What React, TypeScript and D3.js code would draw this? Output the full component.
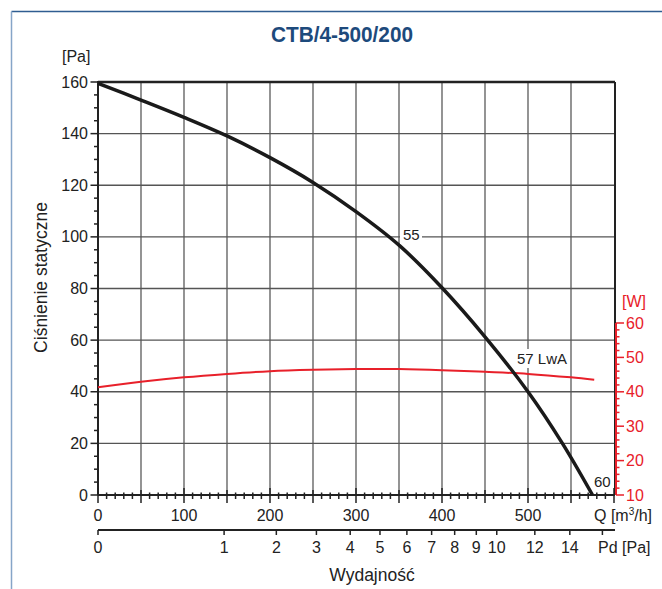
import React from "react";
import * as d3 from "d3";

const title = "CTB/4-500/200";
const flowQ = [0, 50, 100, 150, 200, 250, 300, 350, 400, 450, 500, 540, 575];
const pressurePa = [159.5, 153, 146.3, 139.1, 130.7, 121.1, 109.8, 96.8, 80.3, 61.3, 40, 20, 0];
const powerQ = [0, 50, 100, 150, 200, 250, 300, 350, 400, 450, 500, 550, 577];
const powerW = [41.3, 42.9, 44.2, 45.2, 46.0, 46.4, 46.6, 46.6, 46.3, 45.8, 45.2, 44.2, 43.5];
const qTicks = [0, 100, 200, 300, 400, 500];
const paTicks = [0, 20, 40, 60, 80, 100, 120, 140, 160];
const wTicks = [10, 20, 30, 40, 50, 60];
const pdTicks = [0, 1, 2, 3, 4, 5, 6, 7, 8, 9, 10, 12, 14, 16];
const pdLabelled = [0, 1, 2, 3, 4, 5, 6, 7, 8, 9, 10, 12, 14];
const pdFactor = 21500; // Q^2 per 1 Pa of dynamic pressure
const noiseLabels = ["55", "57 LwA", "60"];

const W = 662;
const H = 589;
const FONT = "Liberation Sans, Arial, Helvetica, sans-serif";
const RED = "#e8202a";

export default function App() {
  const x = d3.scaleLinear().domain([0, 600]).range([98, 614]);
  const y = d3.scaleLinear().domain([0, 160]).range([495, 82]);
  const yw = d3.scaleLinear().domain([10, 60]).range([495, 323]);
  const xPd = (pd: number) => x(Math.sqrt(pd * pdFactor));

  const pLine = d3
    .line<number>()
    .x((_, i) => x(flowQ[i]))
    .y((d) => y(d))
    .curve(d3.curveCatmullRom.alpha(0.5));
  const wLine = d3
    .line<number>()
    .x((_, i) => x(powerQ[i]))
    .y((d) => yw(d))
    .curve(d3.curveCatmullRom.alpha(0.5));

  const vGrid = d3.range(50, 600, 50);
  const hGrid = d3.range(20, 160, 20);
  const qMinor = d3.range(0, 601, 10);
  const paMinor = d3.range(0, 161, 5);
  const wMinor = d3.range(10, 61, 2);

  const labelPos = [
    { x: 403, y: 235, bg: 22 },
    { x: 517, y: 359, bg: 56 },
    { x: 594, y: 481.5, bg: 0 },
  ];

  return (
    <svg
      width={W}
      height={H}
      style={{ position: "absolute", left: 0, top: 0, background: "#fff" }}
      fontFamily={FONT}
    >
      <rect x={0} y={0} width={W} height={H} fill="#fff" />
      {/* frame */}
      <line x1={11.5} y1={11.5} x2={W} y2={11.5} stroke="#2f5d91" strokeWidth={1.5} />
      <line x1={11.5} y1={11.5} x2={11.5} y2={H} stroke="#86a5c8" strokeWidth={1.5} />

      {/* title */}
      <text
        x={342}
        y={41.5}
        textAnchor="middle"
        fontFamily="Liberation Sans Narrow, Arial Narrow, sans-serif"
        fontWeight="bold"
        fontSize={22}
        fill="#1d4a7c"
        textLength={142}
        lengthAdjust="spacingAndGlyphs"
      >
        {title}
      </text>

      {/* grid */}
      {vGrid.map((q) => (
        <line key={"v" + q} x1={x(q)} x2={x(q)} y1={y(160)} y2={y(0)} stroke="#666" strokeWidth={1.4} />
      ))}
      {hGrid.map((p) => (
        <line key={"h" + p} x1={x(0)} x2={x(600)} y1={y(p)} y2={y(p)} stroke="#555" strokeWidth={1.3} />
      ))}

      {/* frame lines of plot */}
      <line x1={x(0)} x2={x(600) + 1} y1={y(160)} y2={y(160)} stroke="#222" strokeWidth={2.5} />
      <line x1={x(600) + 1} x2={x(600) + 1} y1={y(160)} y2={y(0)} stroke="#222" strokeWidth={2} />
      <line x1={x(0)} x2={x(0)} y1={y(160) - 1} y2={y(0)} stroke="#222" strokeWidth={2} />
      <line x1={x(0)} x2={x(600) + 1} y1={y(0)} y2={y(0)} stroke="#222" strokeWidth={2} />

      {/* left axis ticks */}
      {paMinor.map((p) => (
        <line
          key={"pt" + p}
          x1={p % 20 === 0 ? x(0) - 7.5 : x(0) - 4}
          x2={x(0)}
          y1={y(p)}
          y2={y(p)}
          stroke="#222"
          strokeWidth={1.5}
        />
      ))}
      {paTicks.map((p) => (
        <text key={"pl" + p} x={88} y={y(p)} dy="0.35em" textAnchor="end" fontSize={16} fill="#222">
          {p}
        </text>
      ))}
      <text x={62} y={62} fontSize={16} fill="#222">[Pa]</text>
      <text
        transform={`translate(47,${277.5}) rotate(-90)`}
        textAnchor="middle"
        fontSize={17.5}
        fill="#222"
      >
        Ciśnienie statyczne
      </text>

      {/* bottom Q axis ticks */}
      {qMinor.map((q) => {
        const major = q % 100 === 0;
        const mid = q % 50 === 0;
        return (
          <line
            key={"qt" + q}
            x1={x(q)}
            x2={x(q)}
            y1={y(0) - (major ? 7 : mid ? 5 : 2.5)}
            y2={y(0) + (major ? 8 : mid ? 8 : 4)}
            stroke="#222"
            strokeWidth={1.5}
          />
        );
      })}
      {qTicks.map((q) => (
        <text key={"ql" + q} x={x(q)} y={521} textAnchor="middle" fontSize={16} fill="#222">
          {q}
        </text>
      ))}
      <text x={594} y={521} fontSize={16} fill="#222">
        Q [m<tspan dy={-6} fontSize={10}>3</tspan>
        <tspan dy={6}>/h]</tspan>
      </text>

      {/* Pd axis */}
      <line x1={x(0)} x2={615} y1={530} y2={530} stroke="#222" strokeWidth={2} />
      {pdTicks.map((p) => (
        <line key={"pdt" + p} x1={xPd(p)} x2={xPd(p)} y1={530} y2={535} stroke="#222" strokeWidth={1.5} />
      ))}
      {pdLabelled.map((p) => (
        <text key={"pdl" + p} x={xPd(p)} y={553} textAnchor="middle" fontSize={16} fill="#222">
          {p}
        </text>
      ))}
      <text x={598} y={553} fontSize={16} fill="#222">Pd [Pa]</text>
      <text x={372} y={581} textAnchor="middle" fontSize={17.5} fill="#222">Wydajność</text>

      {/* right W axis */}
      <line x1={616} x2={616} y1={yw(60)} y2={yw(10)} stroke={RED} strokeWidth={2} />
      {wMinor.map((w) => (
        <line
          key={"wt" + w}
          x1={616}
          x2={w % 10 === 0 ? 624 : 619.5}
          y1={yw(w)}
          y2={yw(w)}
          stroke={RED}
          strokeWidth={1.5}
        />
      ))}
      {wTicks.map((w) => (
        <text key={"wl" + w} x={626} y={yw(w)} dy="0.35em" fontSize={16} fill={RED}>
          {w}
        </text>
      ))}
      <text x={622} y={307} fontSize={16} fill={RED}>[W]</text>

      {/* curves */}
      <path d={wLine(powerW) || ""} fill="none" stroke={RED} strokeWidth={2} />
      <path d={pLine(pressurePa) || ""} fill="none" stroke="#1a1a1a" strokeWidth={3.5} strokeLinecap="butt" />

      {/* noise labels */}
      {noiseLabels.map((t, i) => {
        const p = labelPos[i];
        return (
          <g key={"nl" + t}>
            {p.bg > 0 && <rect x={p.x - 3} y={p.y - 10} width={p.bg} height={19} fill="#fff" />}
            <text x={p.x} y={p.y} dy="0.35em" fontSize={15} fill="#222">
              {t}
            </text>
          </g>
        );
      })}
    </svg>
  );
}
